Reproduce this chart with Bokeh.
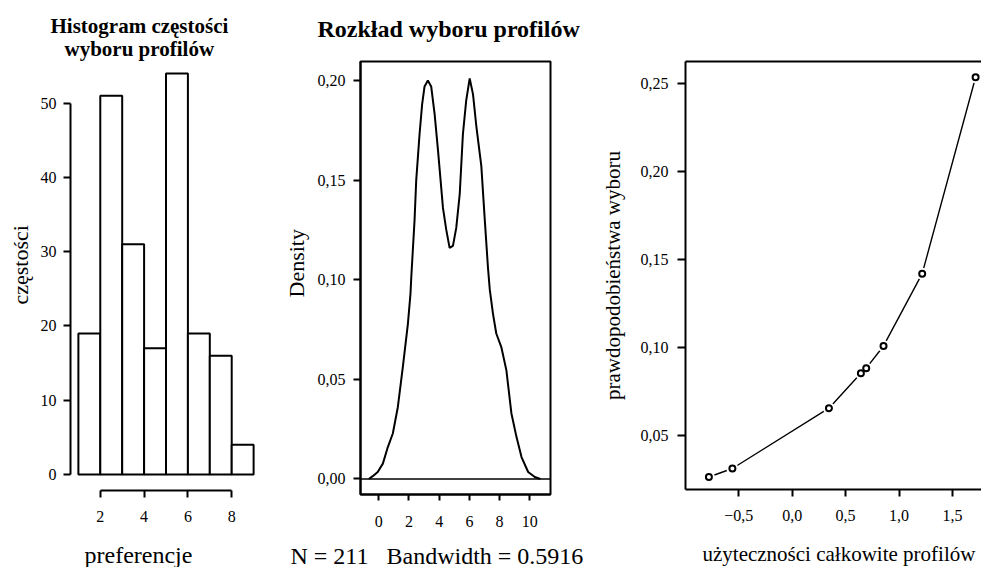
from bokeh.plotting import figure
from bokeh.layouts import row
from bokeh.models import Title, LinearAxis, Span, FixedTicker, CustomJSTickFormatter, Range1d
from bokeh.embed import file_html
from bokeh.resources import INLINE

FONT = "Liberation Serif"

# ---------------- data ----------------
# panel 1: histogram of choice frequencies
bin_edges = [1, 2, 3, 4, 5, 6, 7, 8, 9]
counts = [19, 51, 31, 17, 54, 19, 16, 4]
hist_yticks = [0, 10, 20, 30, 40, 50]
hist_xticks = [2, 4, 6, 8]

# panel 2: density estimate
dens_x = [-0.66, -0.40, -0.07, 0.27, 0.60, 0.93, 1.26, 1.59, 1.93, 2.10, 2.15, 2.37, 2.48,
          2.70, 2.87, 3.03, 3.25, 3.47, 3.70, 3.92, 4.25, 4.47, 4.69, 4.91, 5.13, 5.36,
          5.57, 5.79, 6.02, 6.24, 6.46, 6.79, 7.01, 7.23, 7.35, 7.56, 7.78, 8.12, 8.45,
          8.78, 9.12, 9.45, 9.89, 10.33, 10.70]
dens_y = [0.000, 0.0014, 0.0035, 0.0077, 0.016, 0.0228, 0.036, 0.056, 0.078, 0.093, 0.101,
          0.130, 0.150, 0.173, 0.188, 0.197, 0.200, 0.197, 0.183, 0.165, 0.136, 0.125, 0.116,
          0.117, 0.126, 0.143, 0.173, 0.190, 0.201, 0.193, 0.177, 0.157, 0.131, 0.106, 0.095,
          0.083, 0.073, 0.066, 0.0545, 0.033, 0.021, 0.011, 0.0035, 0.001, 0.000]
dens_xticks = [0, 2, 4, 6, 8, 10]
dens_yticks = [0.0, 0.05, 0.10, 0.15, 0.20]

# panel 3: total utility vs choice probability
util = [-0.78, -0.56, 0.344, 0.643, 0.693, 0.855, 1.217, 1.717]
prob = [0.0267, 0.0315, 0.0657, 0.0855, 0.0884, 0.101, 0.142, 0.2534]
util_xticks = [-0.5, 0.0, 0.5, 1.0, 1.5]
prob_yticks = [0.05, 0.10, 0.15, 0.20, 0.25]

comma2 = CustomJSTickFormatter(code="return tick.toFixed(2).replace('.', ',');")
comma1 = CustomJSTickFormatter(code="return (tick < -1e-9 ? '\u2212' : '') + Math.abs(tick).toFixed(1).replace('.', ',');")


def style_axis(ax, size="16px", out=7, standoff=8):
    ax.axis_line_color = "black"
    ax.axis_line_width = 2
    ax.major_tick_line_color = "black"
    ax.major_tick_line_width = 2
    ax.major_tick_out = out
    ax.major_tick_in = 0
    ax.minor_tick_line_color = None
    ax.major_label_text_font = FONT
    ax.major_label_text_font_size = size
    ax.major_label_text_color = "black"
    ax.major_label_standoff = standoff
    ax.axis_label_text_font = FONT
    ax.axis_label_text_font_style = "normal"
    ax.axis_label_text_color = "black"


def base_fig(xr, yr, fw, fh, left, right, top, bottom):
    p = figure(x_range=xr, y_range=yr, frame_width=fw, frame_height=fh,
               min_border_left=left, min_border_right=right,
               min_border_top=top, min_border_bottom=bottom,
               output_backend="svg", toolbar_location=None, title=None)
    p.xgrid.visible = False
    p.ygrid.visible = False
    p.background_fill_color = "white"
    p.border_fill_color = "white"
    return p


def title(text, offset, standoff, size, bold):
    return Title(text=text, align="left", offset=offset, standoff=standoff,
                 text_font=FONT, text_font_size=size,
                 text_font_style="bold" if bold else "normal", text_color="black")


# ---------------- panel 1 ----------------
p1 = base_fig(Range1d(0.64, 9.36), Range1d(-2.16, 55.62), 191, 429, 68, 11, 55, 76)
p1.outline_line_color = None
p1.quad(left=bin_edges[:-1], right=bin_edges[1:], bottom=0, top=counts,
        fill_color="white", line_color="black", line_width=2)
style_axis(p1.xaxis[0], standoff=13)
p1.xaxis[0].ticker = FixedTicker(ticks=hist_xticks)
p1.xaxis[0].bounds = (hist_xticks[0], hist_xticks[-1])
style_axis(p1.yaxis[0], standoff=7)
p1.yaxis[0].ticker = FixedTicker(ticks=hist_yticks)
p1.yaxis[0].bounds = (hist_yticks[0], hist_yticks[-1])
p1.add_layout(title("częstości", 186, 10, "22px", False), "left")
p1.add_layout(title("wyboru profilów", -6, 1, "21px", True), "above")
p1.add_layout(title("Histogram częstości", -20, -6, "21px", True), "above")
p1.add_layout(title("preferencje", 14, 31, "24px", False), "below")

# ---------------- panel 2 ----------------
p2 = base_fig(Range1d(-1.21, 11.37), Range1d(-0.0078, 0.2095), 190, 433, 88, 42, 61, 73)
p2.outline_line_color = "black"
p2.outline_line_width = 2
p2.outline_line_alpha = 1
p2.add_layout(Span(location=0, dimension="width", line_color="black", line_width=1.5))
p2.line(dens_x, dens_y, line_color="black", line_width=2)
style_axis(p2.xaxis[0], out=6, standoff=15)
p2.xaxis[0].ticker = FixedTicker(ticks=dens_xticks)
style_axis(p2.yaxis[0], standoff=8)
p2.yaxis[0].ticker = FixedTicker(ticks=dens_yticks)
p2.yaxis[0].formatter = comma2
p2.add_layout(title("Density", 197, 12, "22px", False), "left")
# invisible gap between the frame and the title
p2.add_layout(Title(text=" ", text_font_size="1px", standoff=17, text_font=FONT), "above")
p2.add_layout(title("Rozkład wyboru profilów", -43, 0, "24px", True), "above")
p2.add_layout(title("N = 211\u00a0\u00a0 Bandwidth = 0.5916", -70, 22, "24px", False), "below")

# ---------------- panel 3 ----------------
p3 = base_fig(Range1d(-0.999, 1.791), Range1d(0.0196, 0.2623), 298, 428, 93, 0, 61, 78)
p3.outline_line_color = None
p3.line(util, prob, line_color="black", line_width=1.4)
p3.scatter(util, prob, size=12, fill_color="white", line_color=None)
p3.scatter(util, prob, size=6, fill_color="white", line_color="black", line_width=2)
style_axis(p3.xaxis[0], out=7, standoff=13)
p3.xaxis[0].ticker = FixedTicker(ticks=util_xticks)
p3.xaxis[0].formatter = comma1
style_axis(p3.yaxis[0], out=8, standoff=9)
p3.yaxis[0].ticker = FixedTicker(ticks=prob_yticks)
p3.yaxis[0].formatter = comma2
p3.yaxis[0].axis_label = "prawdopodobieństwa wyboru"
p3.yaxis[0].axis_label_text_font_size = "21px"
p3.yaxis[0].axis_label_standoff = 13
top_axis = LinearAxis(ticker=FixedTicker(ticks=[]), axis_line_width=2, axis_line_color="black",
                      major_tick_line_color=None, minor_tick_line_color=None,
                      major_label_text_font_size="0px", major_tick_out=0, major_label_standoff=0)
p3.add_layout(top_axis, "above")
p3.add_layout(title("użyteczności całkowite profilów", 17, 32, "21px", False), "below")

layout = row(p1, p2, p3)
open("out.html", "w").write(file_html(layout, INLINE))
